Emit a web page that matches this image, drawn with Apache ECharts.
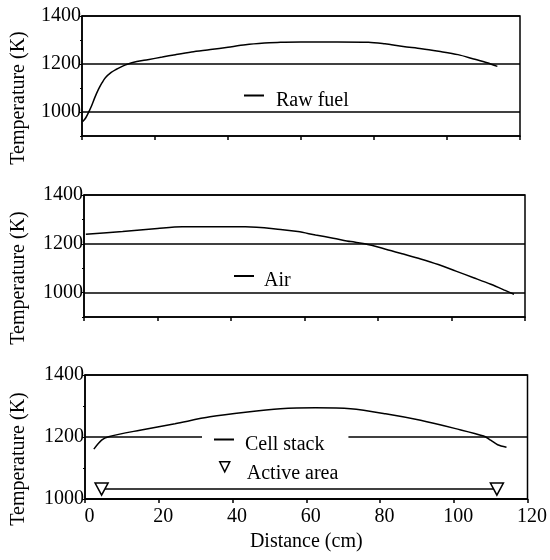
<!DOCTYPE html>
<html>
<head>
<meta charset="utf-8">
<script src="https://cdn.jsdelivr.net/npm/echarts@6/dist/echarts.min.js"></script>
<style>
  html, body { margin: 0; padding: 0; background: #fff; }
  #chart { width: 550px; height: 560px; }
</style>
</head>
<body>
<div id="chart"></div>
<script>
// distance (cm), temperature (K)
const rawFuel = [
  [0.2, 960], [1, 975], [2, 1005], [2.6, 1025], [3.5, 1060], [4.5, 1094],
  [5.5, 1122], [6.4, 1143], [8, 1165], [9.3, 1177], [11, 1190], [12.2, 1198],
  [15, 1210], [18, 1218], [22, 1229], [25.6, 1239], [30, 1250], [35.2, 1260],
  [40, 1270], [44.8, 1280], [50, 1287], [54.4, 1291], [60, 1292], [70, 1292],
  [78.5, 1291], [83, 1284], [88, 1273], [93, 1264], [97.7, 1253], [103, 1239],
  [107.3, 1221], [111, 1205], [113.8, 1190]
];
const air = [
  [0.5, 1239], [10.5, 1250], [20, 1263], [26.7, 1270], [34.4, 1270], [43.9, 1270],
  [53.5, 1259], [58.2, 1250], [63, 1236], [67.8, 1223], [72.6, 1209], [76.4, 1200],
  [82.1, 1178], [86.9, 1158], [91.6, 1138], [96.4, 1115], [101.2, 1088], [106, 1061],
  [110.7, 1034], [114.6, 1009], [117, 993]
];
const cellStack = [
  [2.4, 1161], [4.5, 1190], [6.4, 1201], [14.9, 1222], [24.4, 1243], [33.9, 1265],
  [43.5, 1280], [53, 1291], [62.5, 1294], [72, 1291], [81.5, 1275], [91, 1254],
  [100.5, 1227], [108.1, 1203], [110, 1190], [111.9, 1175], [114.3, 1167]
];
const activeArea = [[4.5, 1032], [111.7, 1032]];

const xTicks = { min: 0, max: 120, interval: 20 };
const yLabels = [1000, 1200, 1400];

const font = "Liberation Serif";
const tri = "path://M0,0 L10,0 L5,10 Z";
// legend icons drawn in the upper part of the item box, so the text sits a bit lower
const dashIcon = "path://M0,0 H20 V2 H0 Z M0,12 L0.01,12";
const triIcon = "path://M0,0 L10,0 L5,10 Z M0,24 L0.01,24";

const grids = [
  { left: 82, top: 16, width: 438, height: 120 },
  { left: 84, top: 195, width: 441, height: 122 },
  { left: 85, top: 375, width: 443, height: 124 }
];

function xAxis(i, labels) {
  return {
    type: "value",
    gridIndex: i,
    min: xTicks.min,
    max: xTicks.max,
    interval: xTicks.interval,
    name: labels ? "Distance (cm)" : "",
    nameLocation: "middle",
    nameGap: 33,
    nameTextStyle: { fontFamily: font, fontSize: 20, color: "#000" },
    axisLine: { lineStyle: { color: "#000", width: 1.5 } },
    axisTick: { length: 4, lineStyle: { color: "#000", width: 1.5 } },
    axisLabel: {
      show: labels, fontFamily: font, fontSize: 20, color: "#000",
      margin: 8, padding: [0, 0, 0, 9]
    },
    splitLine: { show: false }
  };
}

function yAxis(i, min, gap) {
  return {
    type: "value",
    gridIndex: i,
    min: min,
    max: 1400,
    interval: 100,
    name: "Temperature (K)",
    nameLocation: "middle",
    nameGap: gap,
    nameTextStyle: { fontFamily: font, fontSize: 20, color: "#000", padding: [0, 44, 0, 0] },
    axisLine: { lineStyle: { color: "#000", width: 1.5 } },
    axisTick: { length: 2, lineStyle: { color: "#000", width: 1 } },
    axisLabel: {
      fontFamily: font, fontSize: 20, color: "#000", margin: 1,
      formatter: v => (yLabels.indexOf(v) >= 0 ? String(v) : "")
    },
    splitLine: {
      show: true,
      lineStyle: {
        width: 1.5,
        color: min === 900 ? ["rgba(0,0,0,0)", "#000"] : ["#000", "rgba(0,0,0,0)"]
      }
    }
  };
}

function lineSeries(name, i, data) {
  return {
    name: name,
    type: "line",
    xAxisIndex: i,
    yAxisIndex: i,
    data: data,
    showSymbol: false,
    smooth: 0.3,
    color: "#000",
    lineStyle: { color: "#000", width: 1.5 },
    z: 3
  };
}

function dashLegend(name, left, top, padLeft, extra) {
  return Object.assign({
    left: left,
    top: top,
    orient: "vertical",
    padding: 0,
    itemWidth: 20,
    itemHeight: 12,
    selectedMode: false,
    data: [{ name: name, icon: dashIcon }],
    textStyle: { fontFamily: font, fontSize: 20, color: "#000", padding: [0, 0, 0, padLeft] }
  }, extra || {});
}

const option = {
  backgroundColor: "#fff",
  animation: false,
  grid: grids.map(g => Object.assign({
    show: true, borderColor: "#000", borderWidth: 1.5, containLabel: false
  }, g)),
  xAxis: [xAxis(0, false), xAxis(1, false), xAxis(2, true)],
  yAxis: [yAxis(0, 900, 53), yAxis(1, 900, 55), yAxis(2, 1000, 56)],
  legend: [
    dashLegend("Raw fuel", 244, 90.5, 7),
    dashLegend("Air", 234, 271, 5),
    dashLegend("Cell stack", 202, 430.5, 6, {
      backgroundColor: "#fff", padding: [4, 24, 4, 12]
    }),
    {
      left: 219, top: 461, orient: "vertical", padding: 0,
      itemWidth: 10, itemHeight: 24, selectedMode: false,
      data: [{
        name: "Active area", icon: triIcon,
        itemStyle: { color: "#fff", borderColor: "#000", borderWidth: 1.5 }
      }],
      textStyle: { fontFamily: font, fontSize: 20, color: "#000", padding: [0, 0, 0, 12] }
    }
  ],
  series: [
    lineSeries("Raw fuel", 0, rawFuel),
    lineSeries("Air", 1, air),
    lineSeries("Cell stack", 2, cellStack),
    {
      name: "Active area",
      type: "line",
      xAxisIndex: 2,
      yAxisIndex: 2,
      data: activeArea,
      symbol: tri,
      symbolSize: [13, 12],
      showSymbol: true,
      color: "#000",
      itemStyle: { color: "#fff", borderColor: "#000", borderWidth: 1.5 },
      lineStyle: { color: "#000", width: 1.5 },
      z: 3
    }
  ]
};

const chart = echarts.init(document.getElementById("chart"));
chart.setOption(option);
</script>
</body>
</html>
